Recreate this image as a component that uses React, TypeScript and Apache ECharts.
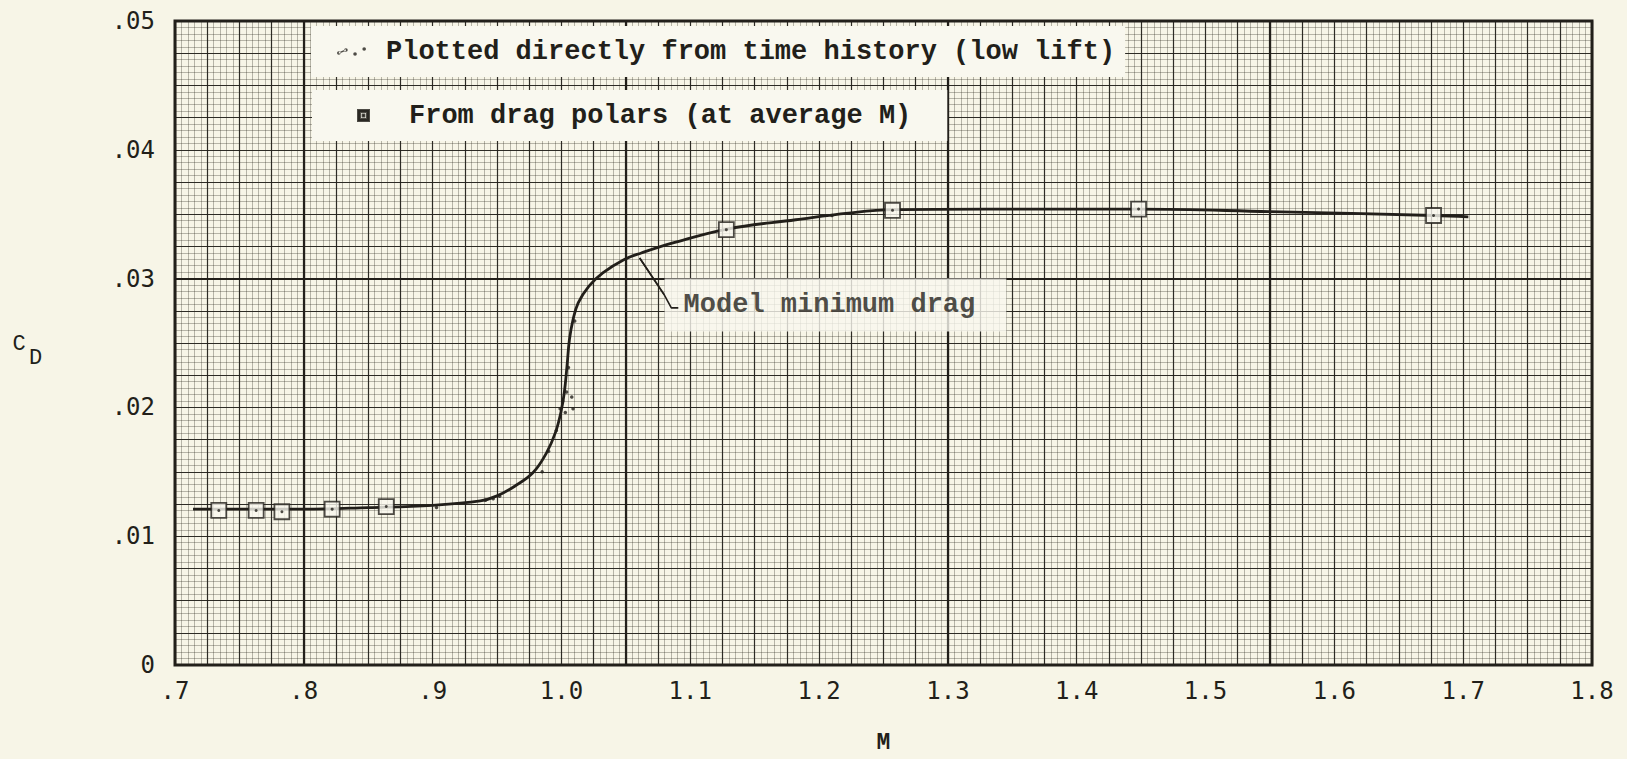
import { useEffect, useRef } from 'react';
import * as echarts from 'echarts';

// Colours and type
const INK = '#221f1a';
const PAPER = '#f7f5e7';
const BOX = '#f9f8ef';
const TYPE = 'Liberation Mono';
const TICK_FONT = 'DejaVu Sans Mono';

// Axis ranges and tick labels
const M_MIN = 0.7;
const M_MAX = 1.8;
const M_STEP = 0.1;
const CD_MIN = 0;
const CD_MAX = 0.05;
const CD_STEP = 0.01;
const xTickLabels = ['.7', '.8', '.9', '1.0', '1.1', '1.2', '1.3', '1.4', '1.5', '1.6', '1.7', '1.8'];
const yTickLabels = ['0', '.01', '.02', '.03', '.04', '.05'];

// Graph-paper rulings (heavy lines of the sheet)
const heavyM = [0.8, 1.05, 1.3, 1.55];
const heavyCD = [0.025];

// Faired curve: model minimum drag
const curveM = [
  0.714, 0.75, 0.8, 0.85, 0.9, 0.937, 0.95, 0.964, 0.978, 0.9885, 0.9953, 0.9995, 1.0022, 1.0043,
  1.0062, 1.009, 1.013, 1.0212, 1.0321, 1.0484, 1.062, 1.0866, 1.1288, 1.1819, 1.2228, 1.2576,
  1.33, 1.4, 1.448, 1.55, 1.677, 1.704,
];
const curveCD = [
  0.0121, 0.0121, 0.0121, 0.01222, 0.0124, 0.01274, 0.01313, 0.0139, 0.01494, 0.01649, 0.01804,
  0.01959, 0.02114, 0.0232, 0.02527, 0.02682, 0.02811, 0.0294, 0.03044, 0.03147, 0.03199, 0.03277,
  0.03385, 0.03457, 0.03509, 0.03535, 0.0354, 0.0354, 0.0354, 0.0352, 0.0349, 0.0348,
];

// Points plotted directly from time history (low lift)
const historyM = [0.903, 0.941, 0.947, 0.952, 0.985, 0.99, 0.996, 0.999, 1.001, 1.003, 1.004, 1.0054, 1.008, 1.009, 1.0103, 1.21];
const historyCD = [0.01222, 0.0128, 0.0129, 0.0131, 0.015, 0.0166, 0.0182, 0.0199, 0.0205, 0.0196, 0.0212, 0.0231, 0.0208, 0.0199, 0.0267, 0.0349];

// Points from drag polars (at average M)
const polarM = [0.734, 0.763, 0.783, 0.822, 0.864, 1.128, 1.257, 1.448, 1.677];
const polarCD = [0.012, 0.012, 0.0119, 0.0121, 0.0123, 0.0338, 0.0353, 0.0354, 0.0349];

// Leader from the note to the curve (tip first)
const leaderM = [1.0607, 1.0797, 1.0853, 1.0907];
const leaderCD = [0.0316, 0.02876, 0.02773, 0.02773];
const noteM = 1.0797;
const noteCD = 0.02795;

const TH_NAME = 'Plotted directly from time history (low lift)';
const DP_NAME = 'From drag polars (at average M)';

const zip = (xs: number[], ys: number[]) => xs.map((x, i) => [x, ys[i]]);

const dotsIcon =
  'path://M0.2,6a1.8,1.8 0 1,0 3.6,0a1.8,1.8 0 1,0 -3.6,0Z' +
  'M2,5.3L9,2.3L9,3.7L2,6.7Z' +
  'M7.2,3a1.8,1.8 0 1,0 3.6,0a1.8,1.8 0 1,0 -3.6,0Z' +
  'M16.2,7a1.8,1.8 0 1,0 3.6,0a1.8,1.8 0 1,0 -3.6,0Z' +
  'M25.2,2a1.8,1.8 0 1,0 3.6,0a1.8,1.8 0 1,0 -3.6,0Z';
const squareIcon = 'path://M0,0H11V11H0Z M2,2V9H9V2Z M4.6,4.6H6.4V6.4H4.6Z';

const gridAxisX = (interval: number, color: string, width: number) => ({
  type: 'value' as const,
  min: M_MIN,
  max: M_MAX,
  interval,
  axisLine: { show: false },
  axisTick: { show: false },
  axisLabel: { show: false },
  splitLine: { show: true, lineStyle: { color, width } },
});
const gridAxisY = (interval: number, color: string, width: number) => ({
  type: 'value' as const,
  min: CD_MIN,
  max: CD_MAX,
  interval,
  axisLine: { show: false },
  axisTick: { show: false },
  axisLabel: { show: false },
  splitLine: { show: true, lineStyle: { color, width } },
});

const FINE = 'rgba(40,38,30,0.45)';
const MEDIUM = 'rgba(34,31,26,0.92)';

const legendText = {
  fontFamily: TYPE,
  fontSize: 27,
  fontWeight: 'bold' as const,
  color: INK,
  lineHeight: 30,
};

const option = {
  animation: false,
  backgroundColor: PAPER,
  grid: {
    left: 175,
    top: 21,
    right: 35,
    bottom: 93,
    show: true,
    borderColor: INK,
    borderWidth: 3,
    backgroundColor: 'transparent',
  },
  xAxis: [
    {
      type: 'value',
      min: M_MIN,
      max: M_MAX,
      interval: M_STEP,
      name: 'M',
      nameLocation: 'middle',
      nameGap: 66,
      nameTextStyle: { fontFamily: TYPE, fontSize: 23, fontWeight: 'bold', color: INK },
      axisLine: { show: false },
      axisTick: { show: false },
      splitLine: { show: false },
      axisLabel: {
        show: true,
        showMinLabel: true,
        showMaxLabel: true,
        margin: 14,
        fontFamily: TICK_FONT,
        fontSize: 24,
        lineHeight: 24,
        color: INK,
        formatter: (v: number) => xTickLabels[Math.round((v - M_MIN) / M_STEP)] ?? '',
      },
    },
    gridAxisX(0.005, FINE, 0.7),
    gridAxisX(0.025, MEDIUM, 1.2),
  ],
  yAxis: [
    {
      type: 'value',
      min: CD_MIN,
      max: CD_MAX,
      interval: CD_STEP,
      axisLine: { show: false },
      axisTick: { show: false },
      splitLine: { show: false },
      axisLabel: {
        show: true,
        showMinLabel: true,
        showMaxLabel: true,
        margin: 20,
        fontFamily: TICK_FONT,
        fontSize: 24,
        color: INK,
        formatter: (v: number) => yTickLabels[Math.round((v - CD_MIN) / CD_STEP)] ?? '',
      },
    },
    gridAxisY(0.0005, FINE, 0.7),
    gridAxisY(0.0025, MEDIUM, 1.2),
  ],
  legend: [
    {
      data: [{ name: TH_NAME, icon: dotsIcon, itemStyle: { color: INK } }],
      left: 311,
      top: 26,
      z: 20,
      padding: [12, 10, 12, 26],
      itemWidth: 29,
      itemHeight: 9,
      backgroundColor: BOX,
      selectedMode: false,
      formatter: (name: string) => `{t|${name}}`,
      textStyle: { rich: { t: { ...legendText, padding: [0, 0, 0, 15] } } },
    },
    {
      data: [{ name: DP_NAME, icon: squareIcon, itemStyle: { color: INK } }],
      left: 312,
      top: 90,
      z: 20,
      padding: [12, 36, 12, 45],
      itemWidth: 11,
      itemHeight: 11,
      backgroundColor: BOX,
      selectedMode: false,
      formatter: (name: string) => `{t|${name}}`,
      textStyle: { rich: { t: { ...legendText, padding: [0, 0, 0, 35] } } },
    },
  ],
  graphic: [
    {
      type: 'text',
      x: 19,
      y: 344,
      style: { text: 'C', font: `22px "${TYPE}"`, fill: INK, align: 'center', verticalAlign: 'middle' },
    },
    {
      type: 'text',
      x: 35.5,
      y: 358,
      style: { text: 'D', font: `22px "${TYPE}"`, fill: INK, align: 'center', verticalAlign: 'middle' },
    },
  ],
  series: [
    {
      name: 'rulings',
      type: 'line',
      data: [],
      silent: true,
      z: 1,
      markLine: {
        silent: true,
        z: 1,
        symbol: ['none', 'none'],
        label: { show: false },
        lineStyle: { color: INK, width: 2.2, type: 'solid' },
        data: [...heavyM.map((v) => ({ xAxis: v })), ...heavyCD.map((v) => ({ yAxis: v }))],
      },
    },
    {
      name: 'Model minimum drag',
      type: 'line',
      data: zip(curveM, curveCD),
      showSymbol: false,
      symbol: 'none',
      smooth: 0.4,
      lineStyle: { color: INK, width: 2.8 },
      z: 3,
    },
    {
      name: TH_NAME,
      type: 'scatter',
      data: zip(historyM, historyCD),
      symbolSize: 3.5,
      itemStyle: { color: INK },
      z: 4,
    },
    {
      name: DP_NAME,
      type: 'scatter',
      data: zip(polarM, polarCD),
      symbol: 'rect',
      symbolSize: 15,
      itemStyle: { color: BOX, borderColor: INK, borderWidth: 1.8 },
      z: 5,
    },
    {
      name: 'polar centres',
      type: 'scatter',
      data: zip(polarM, polarCD),
      symbolSize: 3,
      itemStyle: { color: INK },
      silent: true,
      z: 6,
    },
    {
      name: 'note',
      type: 'scatter',
      data: [[noteM, noteCD]],
      symbolSize: 1,
      itemStyle: { color: 'rgba(0,0,0,0)' },
      silent: true,
      z: 6,
      label: {
        show: true,
        position: 'right',
        distance: 0,
        formatter: 'Model minimum drag',
        backgroundColor: BOX,
        padding: [12, 31, 12, 19],
        fontFamily: TYPE,
        fontSize: 27,
        fontWeight: 'bold',
        lineHeight: 29,
        color: INK,
      },
    },
    {
      name: 'leader',
      type: 'line',
      data: zip(leaderM, leaderCD),
      showSymbol: false,
      symbol: 'none',
      silent: true,
      lineStyle: { color: INK, width: 1.6 },
      z: 7,
      markLine: {
        silent: true,
        z: 7,
        symbol: ['none', 'arrow'],
        symbolSize: [0, 11],
        label: { show: false },
        lineStyle: { color: INK, width: 1.6, type: 'solid' },
        data: [[{ coord: [leaderM[1], leaderCD[1]] }, { coord: [leaderM[0], leaderCD[0]] }]],
      },
    },
  ],
};

export default function App() {
  const ref = useRef<HTMLDivElement>(null);
  useEffect(() => {
    if (!ref.current) return;
    const chart = echarts.init(ref.current, null, { renderer: 'svg' });
    chart.setOption(option as any);
    return () => chart.dispose();
  }, []);
  return (
    <div
      ref={ref}
      style={{ position: 'fixed', left: 0, top: 0, width: 1627, height: 759, background: PAPER }}
    />
  );
}
